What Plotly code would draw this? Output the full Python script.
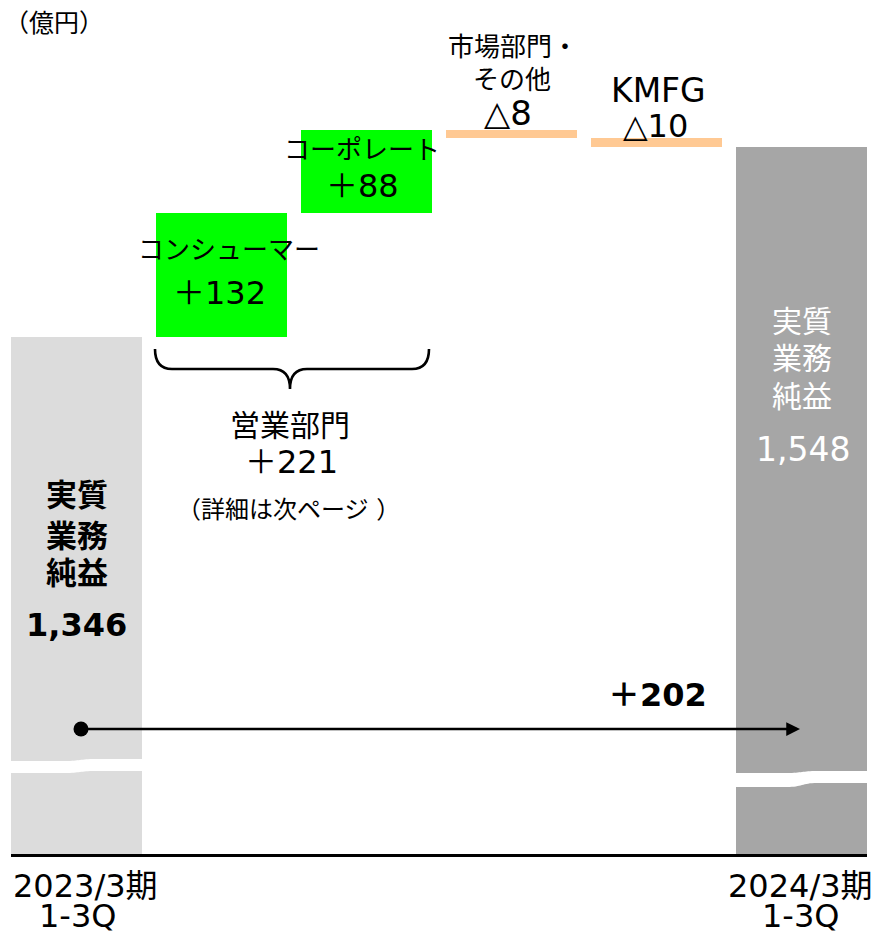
import plotly.graph_objects as go

# ---------------- data ----------------
categories = ["2023/3期<br>1-3Q", "コンシューマー", "コーポレート", "市場部門・その他", "KMFG", "2024/3期<br>1-3Q"]
start_value = 1346
deltas = [132, 88, -8, -10]
end_value = 1548
delta_labels = ["＋132", "＋88", "△8", "△10"]
segment_total_label = "＋221"
total_change_label = "＋202"
bar_colors = ["#dcdcdc", "#00ff00", "#00ff00", "#ffc993", "#ffc993", "#a6a6a6"]

# ---------------- geometry helpers ----------------
W, H = 879, 932
ML, MR, MT, MB = 11, 12, 0, 78
PW = W - ML - MR
PH = H - MT - MB
X0, X1 = -0.455, 5.455
Y0, Y1 = 797.4, 1704.3


def xd(px):
    return X0 + (px - ML) * (X1 - X0) / PW


def yp(py):
    return 1 - (py - MT) / PH


def yd(py):
    return Y1 - (Y1 - Y0) * (py - MT) / PH


xs = list(range(len(categories)))
bases, heights = [0], [start_value]
run = start_value
for d in deltas:
    new = run + d
    bases.append(min(run, new))
    heights.append(abs(d))
    run = new
bases.append(0)
heights.append(end_value)

FONT = "DejaVu Sans, Noto Sans CJK JP, sans-serif"

fig = go.Figure()
fig.add_trace(go.Bar(
    x=xs, y=heights, base=bases, width=0.905,
    marker=dict(color=bar_colors, line=dict(width=0)),
    hoverinfo="skip", showlegend=False,
))

# dot at arrow start
fig.add_trace(go.Scatter(
    x=[xd(81)], y=[yd(729)], mode="markers",
    marker=dict(size=15, color="black"), hoverinfo="skip", showlegend=False,
))

ann = []


def text(s, px, py, size, color="black", bold=False, xanchor="center"):
    if bold:
        s = "<b>" + s + "</b>"
    ann.append(dict(
        text=s, x=xd(px), y=yp(py), xref="x", yref="paper",
        xanchor=xanchor, yanchor="middle", showarrow=False,
        font=dict(size=size, color=color, family=FONT),
    ))


# unit label (paper coordinates so it is never hidden)
ann.append(dict(
    text="（億円）", x=(2 - ML) / PW, y=yp(23), xref="paper", yref="paper",
    xanchor="left", yanchor="middle", showarrow=False,
    font=dict(size=25, color="black", family=FONT),
))

# start bar labels
for s, py in [("実質", 495), ("業務", 536), ("純益", 573)]:
    text(s, 77, py, 31, bold=True)
text(f"{start_value:,}", 76, 625, 32, bold=True)

# end bar labels
for s, py in [("実質", 321), ("業務", 358), ("純益", 396)]:
    text(s, 802, py, 30, color="white")
text(f"{end_value:,}", 803, 449, 33, color="white")

# delta labels
text("コンシューマー", 229, 250, 26)
text(delta_labels[0], 219, 293, 32)
text("コーポレート", 362, 150, 26)
text(delta_labels[1], 362, 186, 32)
text("市場部門・", 513, 47, 26)
text("その他", 512, 80, 26)
text(delta_labels[2], 508, 113, 34)
text("KMFG", 658, 90, 33)
text(delta_labels[3], 655, 126, 32)

# segment bracket labels
text("営業部門", 290, 425, 30)
text(segment_total_label, 291, 462, 32)
text("（詳細は次ページ ）", 288, 510, 24)

# total change
text(total_change_label, 657, 695, 32, bold=True)

# x labels
text("2023/3期", 85, 886, 32)
text("1-3Q", 77, 916, 32)
text("2024/3期", 800, 886, 32)
text("1-3Q", 800, 916, 32)

# arrow
ann.append(dict(
    x=xd(800), y=yp(729), xref="x", yref="paper",
    ax=-(800 - 81), ay=0, axref="pixel", ayref="pixel",
    showarrow=True, arrowhead=2, arrowsize=1.1, arrowwidth=2.5, arrowcolor="black", text="",
))


def path(cmds):
    out = []
    for c in cmds:
        if isinstance(c, str):
            out.append(c)
        else:
            out.append(f"{xd(c[0]):.5f},{yp(c[1]):.5f}")
    return " ".join(out)


shapes = []
# brace
brace = path(["M", (155, 349), "Q", (155, 369), (172, 369), "L", (273, 369), "Q", (290, 369), (290, 389),
              "Q", (290, 369), (307, 369), "L", (412, 369), "Q", (429, 369), (429, 349)])
shapes.append(dict(type="path", path=brace, xref="x", yref="paper",
                   line=dict(color="black", width=2.6), fillcolor="rgba(0,0,0,0)"))

# axis break bands


def band(xl, xr, xm, top_l, top_r, bot_l, bot_r):
    return path(["M", (xl, top_l), "L", (xm - 15, top_l), "C", (xm, top_l), (xm, top_r), (xm + 15, top_r),
                 "L", (xr, top_r), "L", (xr, bot_r), "L", (xm + 15, bot_r),
                 "C", (xm, bot_r), (xm, bot_l), (xm - 15, bot_l), "L", (xl, bot_l), "Z"])


shapes.append(dict(type="path", path=band(8, 147, 80, 761, 759, 773, 771), xref="x", yref="paper",
                   line=dict(width=0), fillcolor="white", layer="above"))
shapes.append(dict(type="path", path=band(732, 872, 802, 773, 771, 787, 783), xref="x", yref="paper",
                   line=dict(width=0), fillcolor="white", layer="above"))

fig.update_layout(
    width=W, height=H,
    margin=dict(l=ML, r=MR, t=MT, b=MB),
    paper_bgcolor="white", plot_bgcolor="white",
    xaxis=dict(range=[X0, X1], showticklabels=False, ticks="", showgrid=False, zeroline=False,
               showline=True, linecolor="black", linewidth=2.5, fixedrange=True),
    yaxis=dict(range=[Y0, Y1], visible=False, showgrid=False, fixedrange=True),
    annotations=ann, shapes=shapes, bargap=0,
    font=dict(family=FONT),
)

fig.write_html("out.html", config={"displayModeBar": False})
